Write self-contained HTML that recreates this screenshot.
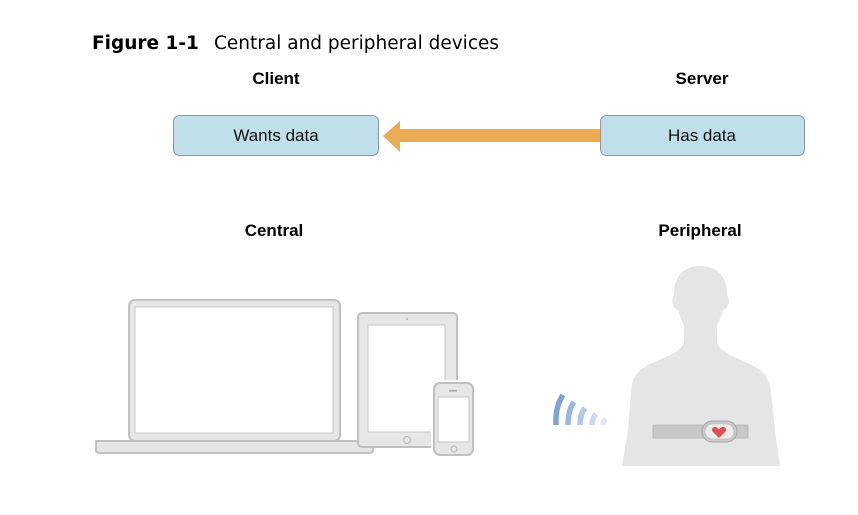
<!DOCTYPE html>
<html><head><meta charset="utf-8"><style>
body{margin:0;background:#fff;width:858px;height:510px;overflow:hidden}
</style></head><body>
<svg width="858" height="510" viewBox="0 0 858 510" xmlns="http://www.w3.org/2000/svg">
<text x="92" y="49" font-family="DejaVu Sans, sans-serif" font-size="18.5" fill="#000"><tspan font-weight="bold">Figure 1-1</tspan><tspan x="214">Central and peripheral devices</tspan></text>
<g font-family="Liberation Sans, Arial, sans-serif" font-weight="bold" font-size="17" text-anchor="middle" fill="#000">
<text x="276" y="84">Client</text>
<text x="702" y="84">Server</text>
<text x="274" y="236">Central</text>
<text x="700" y="236">Peripheral</text>
</g>
<rect x="173.5" y="115.5" width="205" height="40" rx="6" fill="#c1dfea" stroke="#8a9aa0"/>
<rect x="600.5" y="115.5" width="204" height="40" rx="6" fill="#c1dfea" stroke="#8a9aa0"/>
<g font-family="Liberation Sans, Arial, sans-serif" font-size="17" text-anchor="middle" fill="#111">
<text x="276" y="141">Wants data</text>
<text x="702" y="141">Has data</text>
</g>
<polygon points="383,136 400,121 400,129 600,129 600,142 400,142 400,152" fill="#eaab55"/>
<!-- laptop -->
<rect x="129" y="300" width="211" height="141" rx="6" fill="#e6e6e6" stroke="#c0c0c0" stroke-width="2"/>
<rect x="135" y="307" width="198" height="126" fill="#fff" stroke="#c8c8c8"/>
<path d="M96,441 H373 V450 Q373,453 368,453 H101 Q96,453 96,450 Z" fill="#e6e6e6" stroke="#c0c0c0" stroke-width="2"/>
<!-- ipad -->
<rect x="358" y="313" width="99" height="134" rx="4" fill="#e6e6e6" stroke="#c0c0c0" stroke-width="2"/>
<rect x="368" y="325" width="77" height="107" fill="#fff" stroke="#c8c8c8"/>
<circle cx="407" cy="440" r="3.5" fill="none" stroke="#b8b8b8"/>
<circle cx="407" cy="319" r="0.8" fill="#888"/>
<rect x="431" y="380" width="46" height="80" fill="#fff"/>
<!-- iphone -->
<rect x="434" y="383" width="39" height="72" rx="6" fill="#e6e6e6" stroke="#c0c0c0" stroke-width="2"/>
<rect x="438" y="397" width="31" height="45" fill="#fff" stroke="#c8c8c8"/>
<circle cx="454" cy="449" r="3" fill="none" stroke="#b8b8b8"/>
<rect x="449" y="390" width="8" height="1.5" fill="#aaa"/>
<!-- person -->
<path d="M700,266 C684,266 674,276 674,294 L672,300 C672,306 675,309 678,310 C680,318 683,322 684,326 L684,340 C684,350 672,354 655,362 C640,368 632,374 631,392 L628,430 L622,466 L780,466 L775,430 L771,392 C769,374 760,368 745,362 C728,354 717,350 717,340 L717,326 C718,322 721,318 723,310 C726,309 729,306 729,300 L727,294 C727,276 717,266 700,266 Z" fill="#e4e5e5"/>
<rect x="653" y="425" width="95" height="13" fill="#c8c8c8" stroke="#b4b4b4" stroke-width="0.8"/>
<rect x="702" y="421" width="35" height="21" rx="10.5" fill="#c9c9c9" stroke="#a8a8a8"/>
<rect x="705" y="424" width="29" height="15" rx="7.5" fill="#ececec" stroke="#b8b8b8" stroke-width="0.6"/>
<path d="M719,438 L713,432 C711,430 712,427 715,427 C717,427 718,428 719,429.5 C720,428 721,427 723,427 C726,427 727,430 725,432 Z" fill="#e05050"/>
<!-- waves -->
<g fill="none" stroke-width="5.5">
<path d="M556,425 Q555,407 563,395" stroke="#7ea3d4"/>
<path d="M568,425 Q568,410 574,402" stroke="#98b6de"/>
<path d="M580,425 Q580,414 585,408" stroke="#b2c8e6"/>
<path d="M592,425 Q592,418 596,414" stroke="#cad9ee"/>
<path d="M603,425 Q603,421 606,419" stroke="#dfe8f5"/>
</g>
</svg>
</body></html>
